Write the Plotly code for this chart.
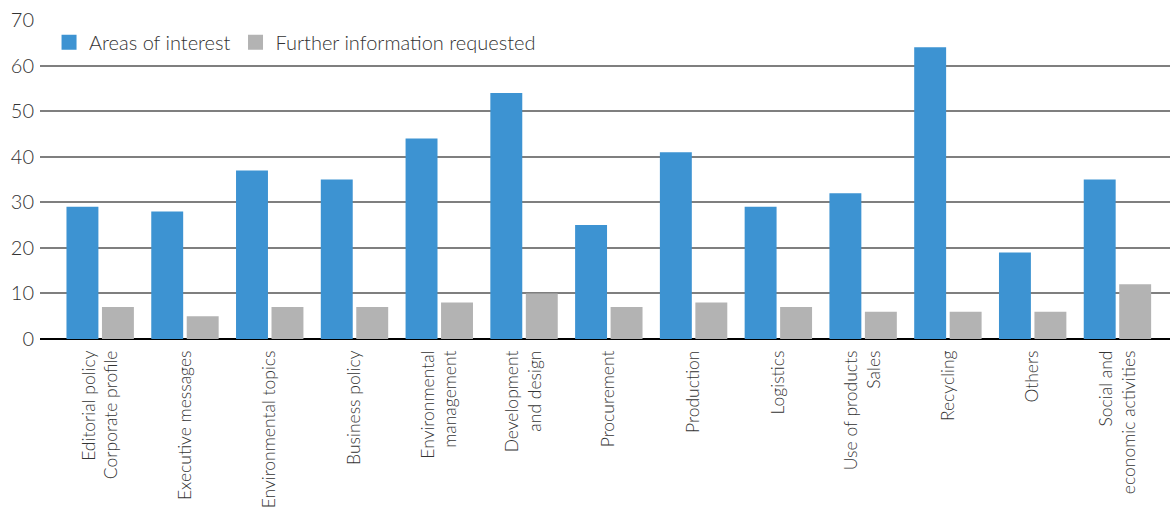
import plotly.graph_objects as go

categories = [
    "Editorial policy<br>Corporate profile",
    "Executive messages",
    "Environmental topics",
    "Business policy",
    "Environmental<br>management",
    "Development<br>and design",
    "Procurement",
    "Production",
    "Logistics",
    "Use of products<br>Sales",
    "Recycling",
    "Others",
    "Social and<br>economic activities",
]
areas_of_interest = [29, 28, 37, 35, 44, 54, 25, 41, 29, 32, 64, 19, 35]
further_info = [7, 5, 7, 7, 8, 10, 7, 8, 7, 6, 6, 6, 12]
y_ticks = [0, 10, 20, 30, 40, 50, 60, 70]

FONT = "Lato"
TXT = "#333333"
BLUE = "#3d93d2"
GRAY = "#b3b3b3"

xs = list(range(len(categories)))
fig = go.Figure()
fig.add_bar(x=xs, y=areas_of_interest, name="Areas of interest",
            marker=dict(color=BLUE, line=dict(width=0)), showlegend=False)
fig.add_bar(x=xs, y=further_info, name="Further information requested",
            marker=dict(color=GRAY, line=dict(width=0)), showlegend=False)
# legend entries with larger square swatches
fig.add_scatter(x=[None], y=[None], mode="markers", name="Areas of interest",
                marker=dict(symbol="square", size=15, color=BLUE))
fig.add_scatter(x=[None], y=[None], mode="markers", name="Further information requested",
                marker=dict(symbol="square", size=15, color=GRAY))

fig.update_layout(
    width=1170, height=510,
    margin=dict(l=40, r=0, t=20, b=171, autoexpand=False),
    paper_bgcolor="white", plot_bgcolor="white",
    barmode="group", bargap=0.163, bargroupgap=0.1,
    font=dict(family=FONT, size=19, color=TXT, weight=300),
    showlegend=True,
    legend=dict(orientation="h", x=0.008, y=0.93, xanchor="left", yanchor="middle",
                bgcolor="rgba(0,0,0,0)", font=dict(size=20, color=TXT, weight=300),
                itemsizing="trace", traceorder="normal", itemwidth=30),
    xaxis=dict(
        tickmode="array", tickvals=xs, ticktext=categories, automargin=False,
        range=[-0.71, 12.62], tickangle=-90, showgrid=False, ticks="",
        tickfont=dict(size=17.5, color=TXT, weight=300), showline=False, zeroline=False,
        ticklabelstandoff=7,
    ),
    yaxis=dict(
        range=[0, 70], tickvals=y_ticks, showgrid=True, gridcolor="#7f7f7f", gridwidth=1.5,
        zeroline=True, zerolinecolor="#000000", zerolinewidth=1.5, automargin=False,
        tickfont=dict(size=20, color=TXT, weight=300), ticks="", ticklabelstandoff=5,
        showline=False,
    ),
)

fig.write_html("out.html")
